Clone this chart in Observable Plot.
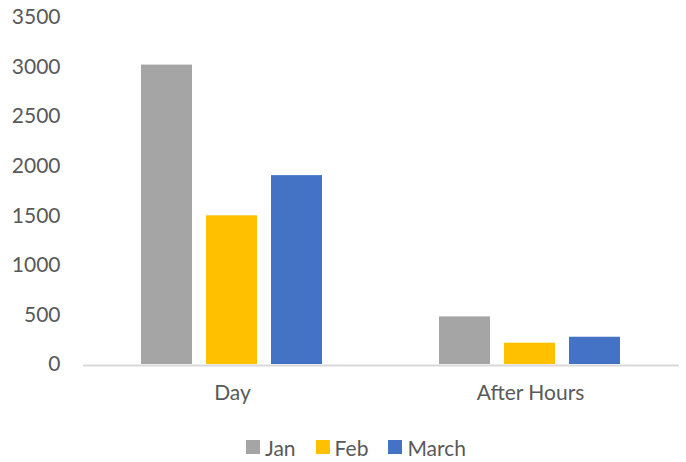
<!DOCTYPE html>
<html>
<head>
<meta charset="utf-8">
<script src="https://cdn.jsdelivr.net/npm/d3@7"></script>
<script src="https://cdn.jsdelivr.net/npm/@observablehq/plot@0.6"></script>
<style>
  html, body { margin: 0; padding: 0; background: #fff; }
  #chart { width: 686px; }
  .legend { display: flex; justify-content: center; align-items: center; height: 54px; padding-left: 26px;
            font-family: Lato, "Open Sans", sans-serif; font-size: 21px; color: #595959; }
  .legend .item { display: flex; align-items: center; margin: 0 10px; }
  .legend .sw { width: 14px; height: 14px; margin-right: 5px; }
</style>
</head>
<body>
<div id="chart"></div>
<script>
const categories = ["Day", "After Hours"];
const months = ["Jan", "Feb", "March"];
const janValues = [3020, 480];
const febValues = [1500, 215];
const marchValues = [1905, 275];
const yTicks = [0, 500, 1000, 1500, 2000, 2500, 3000, 3500];
const colors = ["#A5A5A5", "#FFC000", "#4472C4"];

const series = [janValues, febValues, marchValues];
const rows = [];
categories.forEach((c, i) => months.forEach((m, j) => rows.push({cat: c, month: m, value: series[j][i]})));

const plot = Plot.plot({
  width: 686,
  height: 420,
  marginLeft: 83,
  marginRight: 7,
  marginTop: 17,
  marginBottom: 56,
  style: {fontFamily: "Lato, 'Open Sans', sans-serif", fontSize: "21px", color: "#595959", background: "#fff"},
  fx: {domain: categories, padding: 0, label: null, axis: "bottom", tickSize: 0, tickPadding: 21},
  x: {domain: months, axis: null, paddingInner: 0.212, paddingOuter: 0.864},
  y: {domain: [0, 3500], ticks: yTicks, tickFormat: d => String(d), tickSize: 0, tickPadding: 23, label: null, grid: false},
  color: {domain: months, range: colors},
  marks: [
    Plot.barY(rows, {fx: "cat", x: "month", y: "value", fill: "month"}),
    Plot.ruleY([0], {stroke: "#d9d9d9", strokeWidth: 2, dy: 1})
  ]
});
const chart = document.getElementById("chart");
chart.appendChild(plot);

const legend = document.createElement("div");
legend.className = "legend";
months.forEach((m, i) => {
  const item = document.createElement("div");
  item.className = "item";
  const sw = document.createElement("span");
  sw.className = "sw";
  sw.style.background = colors[i];
  const t = document.createElement("span");
  t.textContent = m;
  item.appendChild(sw);
  item.appendChild(t);
  legend.appendChild(item);
});
chart.appendChild(legend);
</script>
</body>
</html>
